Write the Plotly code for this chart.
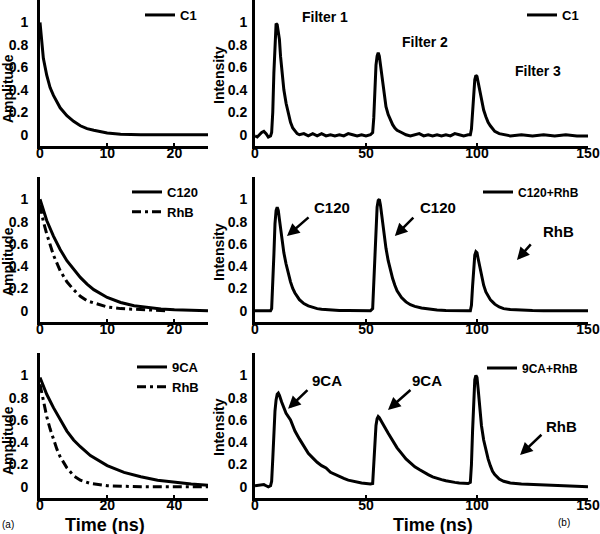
import plotly.graph_objects as go

# ---------------- data ----------------
c1_t = [0, 0.25, 0.5, 1, 1.5, 2, 3, 4, 5, 6, 7, 8, 9, 10, 12, 15, 20, 25]
c1_a = [1.0, 0.82, 0.68, 0.53, 0.42, 0.35, 0.24, 0.17, 0.12, 0.08, 0.055, 0.04, 0.025, 0.015, 0.005, 0, 0, 0]

c120_t = [0, 1, 2, 3, 4, 5, 6, 7, 8, 10, 12, 14, 16, 18, 20, 25]
c120_a = [1.0, 0.81, 0.67, 0.55, 0.45, 0.37, 0.30, 0.24, 0.19, 0.12, 0.075, 0.045, 0.028, 0.017, 0.01, 0.0]
rhb1_t = [0, 0.5, 1, 2, 3, 4, 5, 6, 7, 8, 10, 12, 15, 19]
rhb1_a = [0.95, 0.80, 0.69, 0.50, 0.36, 0.26, 0.19, 0.13, 0.09, 0.07, 0.035, 0.02, 0.01, 0.0]

ca9_t = [0, 2, 4, 6, 8, 10, 12, 15, 20, 25, 30, 35, 40, 45, 50]
ca9_a = [0.98, 0.83, 0.71, 0.60, 0.50, 0.42, 0.36, 0.28, 0.19, 0.13, 0.09, 0.06, 0.04, 0.025, 0.015]
rhb2_t = [0, 1, 2, 3, 4, 5, 6, 8, 10, 12, 15, 20, 30, 40, 50]
rhb2_a = [0.92, 0.76, 0.63, 0.52, 0.42, 0.34, 0.27, 0.17, 0.10, 0.06, 0.03, 0.01, 0, 0, 0]

s1_t = [0, 1, 2, 3, 4, 5, 6, 7, 7.5, 8, 8.5, 9, 9.5, 10, 10.5, 11, 11.5, 12, 12.5, 13, 14, 15, 16, 17, 18, 19, 20,
        22, 24, 26, 28, 30, 32, 34, 36, 38, 40, 42, 44, 46, 48, 50, 52, 53, 53.5, 54, 54.5, 55, 55.5, 56, 56.5, 57,
        57.5, 58, 59, 60, 61, 62, 63, 64, 66, 68, 70, 72, 74, 76, 78, 80, 82, 84, 86, 88, 90, 92, 94, 96, 97, 97.5,
        98, 98.5, 99, 99.5, 100, 100.5, 101, 101.5, 102, 103, 104, 105, 106, 107, 108, 110, 112, 115, 120, 125, 130,
        135, 140, 145, 150]
s1_v = [-0.01, -0.02, 0.0, 0.02, 0.03, 0.01, -0.02, -0.01, 0.02, 0.2, 0.55, 0.88, 0.99, 0.98, 0.9, 0.85, 0.7, 0.6,
        0.5, 0.4, 0.28, 0.18, 0.11, 0.06, 0.03, 0.01, 0.0,
        0.01, -0.01, 0.01, -0.01, 0.01, -0.01, 0.0, -0.01, 0.0, -0.01, 0.01, 0.0, -0.01, 0.0, -0.01, 0.0, 0.02, 0.15,
        0.4, 0.62, 0.7, 0.73, 0.7, 0.62, 0.54,
        0.45, 0.37, 0.25, 0.18, 0.13, 0.09, 0.06, 0.04, 0.02, 0.0, -0.01, 0.0, 0.01, -0.01, 0.0, -0.01, 0.0, -0.01,
        0.0, -0.01, 0.01, 0.0, -0.01, 0.0, 0.0, 0.05,
        0.2, 0.38, 0.49, 0.53, 0.52, 0.47, 0.42, 0.36, 0.31, 0.22, 0.16, 0.11, 0.08, 0.05, 0.03, 0.01, 0.0, -0.01,
        0.0, -0.01, 0.0,
        -0.01, 0.0, -0.01, -0.01]

s2_t = [0, 2, 4, 6, 7, 7.5, 8, 8.5, 9, 9.5, 10, 10.5, 11, 12, 13, 14, 15, 16, 17, 18, 20, 22, 24, 26, 28, 30, 34, 38,
        42, 46, 50, 52, 53, 53.5, 54, 54.5, 55, 55.5, 56, 56.5, 57, 58, 59, 60, 61, 62, 63, 64, 66, 68, 70, 72, 75,
        78, 82, 86, 90, 94, 96, 97, 97.5, 98, 98.5, 99, 99.5, 100, 100.5, 101, 102, 103, 104, 105, 106, 107, 108,
        110, 112, 115, 120, 125, 130, 140, 150]
s2_v = [0, 0, 0, 0, 0, 0.02, 0.2, 0.5, 0.78, 0.9, 0.93, 0.9, 0.82, 0.65, 0.52, 0.42, 0.33, 0.26, 0.2, 0.16, 0.1,
        0.065, 0.045, 0.03, 0.02, 0.015, 0.008, 0.004,
        0.002, 0.0, 0, 0, 0.02, 0.25, 0.55, 0.8, 0.93, 0.99, 1.0, 0.95, 0.86, 0.7, 0.56, 0.45, 0.36, 0.29, 0.23, 0.18,
        0.12, 0.08, 0.055, 0.04, 0.025,
        0.015, 0.008, 0.004, 0.0, 0, 0, 0, 0.05, 0.22, 0.4, 0.5, 0.53, 0.52, 0.47, 0.42, 0.31, 0.23, 0.17, 0.13, 0.1,
        0.08, 0.06,
        0.035, 0.02, 0.012, 0.005, 0.002, 0, 0, 0]

s3_t = [0, 2, 4, 5, 6, 7, 7.5, 8, 8.5, 9, 9.5, 10, 10.5, 11, 12, 13, 14, 16, 18, 20, 22, 24, 26, 28, 30, 32, 34, 36,
        38, 40, 42, 44, 46, 48, 50, 52, 53, 53.5, 54, 54.5, 55, 55.5, 56, 56.5, 57, 58, 60, 62, 64, 66, 68, 70, 72,
        74, 76, 78, 80, 82, 84, 86, 88, 90, 92, 94, 96, 97, 97.5, 98, 98.5, 99, 99.5, 100, 100.5, 101, 101.5, 102,
        103, 104, 105, 106, 107, 108, 110, 112, 115, 120, 125, 130, 135, 140, 145, 150]
s3_v = [0.01, 0.015, 0.02, 0.01, 0.0, 0.01, 0.05, 0.25, 0.5, 0.68, 0.78, 0.83, 0.84, 0.82, 0.76, 0.71, 0.66, 0.6,
        0.5, 0.43, 0.36, 0.3, 0.26, 0.22, 0.19, 0.17, 0.13, 0.11,
        0.09, 0.075, 0.06, 0.05, 0.04, 0.035, 0.03, 0.025, 0.03, 0.2, 0.4, 0.55, 0.61, 0.63, 0.62, 0.6, 0.58, 0.55,
        0.48, 0.41, 0.35, 0.3, 0.25, 0.215, 0.18,
        0.155, 0.13, 0.11, 0.09, 0.075, 0.065, 0.055, 0.045, 0.04, 0.035, 0.03, 0.03, 0.04, 0.2, 0.5, 0.8, 0.96, 1.0,
        0.98, 0.88, 0.75, 0.64, 0.55,
        0.42, 0.32, 0.25, 0.19, 0.14, 0.11, 0.07, 0.05, 0.035, 0.025, 0.02, 0.015, 0.012, 0.01, 0.005, 0.0]

y_ticks = [0, 0.2, 0.4, 0.6, 0.8, 1]
y_ticklabels = ["0", "0.2", "0.4", "0.6", "0.8", "1"]

# ---------------- figure ----------------
FONT = "Liberation Sans, Arial, sans-serif"
BLK = "black"
LW = 3

fig = go.Figure()

def line(x, y, name, xa, ya, leg, dash="solid"):
    fig.add_trace(go.Scatter(x=x, y=y, name=name, mode="lines", xaxis=xa, yaxis=ya, legend=leg,
                             line=dict(color=BLK, width=LW, dash=dash)))

DD = "9px,4px,3px,4px"
line(c1_t, c1_a, "C1", "x", "y", "legend")
line(s1_t, s1_v, "C1", "x2", "y2", "legend2")
line(c120_t, c120_a, "C120", "x3", "y3", "legend3")
line(rhb1_t, rhb1_a, "RhB", "x3", "y3", "legend3", DD)
line(s2_t, s2_v, "C120+RhB", "x4", "y4", "legend4")
line(ca9_t, ca9_a, "9CA", "x5", "y5", "legend5")
line(rhb2_t, rhb2_a, "RhB", "x5", "y5", "legend5", DD)
line(s3_t, s3_v, "9CA+RhB", "x6", "y6", "legend6")

W, H = 600, 534
ML, MR, MT, MB = 40, 12, 0, 36
PW, PH = W - ML - MR, H - MT - MB

def xd(p0, p1):
    return [(p0 - ML) / PW, (p1 - ML) / PW]

def yd(p_top, p_bot):
    return [(H - MB - p_bot) / PH, (H - MB - p_top) / PH]

left_dom = xd(40, 208)
right_dom = xd(255, 588)
rows = [yd(0, 146), yd(177, 322), yd(353, 498)]

tickfont = dict(family=FONT, size=14, color=BLK, weight="bold")
xranges = [[0, 25], [0, 150], [0, 25], [0, 150], [0, 50], [0, 150]]
xdticks = [10, 50, 10, 50, 20, 50]

layout = dict(width=W, height=H, margin=dict(l=ML, r=MR, t=MT, b=MB),
              paper_bgcolor="white", plot_bgcolor="white", showlegend=True)
for i in range(6):
    r, c = divmod(i, 2)
    sx = "" if i == 0 else str(i + 1)
    layout["xaxis" + sx] = dict(domain=left_dom if c == 0 else right_dom, range=xranges[i], dtick=xdticks[i],
                                anchor="y" + sx, showline=True, linewidth=LW, linecolor=BLK, mirror=False,
                                ticks="inside", ticklen=3, tickwidth=1.5, tickcolor=BLK, showgrid=False,
                                zeroline=False, tickfont=tickfont, automargin=False, ticklabelstandoff=-8)
    layout["yaxis" + sx] = dict(domain=rows[r], range=[-0.1, 1.2], tickvals=y_ticks, ticktext=y_ticklabels,
                                anchor="x" + sx, showline=True, linewidth=LW, linecolor=BLK,
                                ticks="", showgrid=False, zeroline=False, tickfont=tickfont, automargin=False,
                                ticklabelstandoff=6 if c == 0 else 2)

def px2x(px):
    return (px - ML) / PW

def py2y(py):
    return (H - MB - py) / PH

legfont_l = dict(family=FONT, size=13, color=BLK, weight="bold")
legfont_r = dict(family=FONT, size=12, color=BLK, weight="bold")
leg_common = dict(xanchor="right", yanchor="middle", bgcolor="rgba(0,0,0,0)", borderwidth=0,
                  itemwidth=30, tracegroupgap=0)
layout["legend"] = dict(x=px2x(202), y=py2y(15), font=legfont_l, **leg_common)
layout["legend2"] = dict(x=px2x(584), y=py2y(15), font=legfont_l, **leg_common)
layout["legend3"] = dict(x=px2x(204), y=py2y(202), font=legfont_l, **leg_common)
layout["legend4"] = dict(x=px2x(584), y=py2y(192), font=legfont_r, **leg_common)
layout["legend5"] = dict(x=px2x(204), y=py2y(377), font=legfont_l, **leg_common)
layout["legend6"] = dict(x=px2x(584), y=py2y(368), font=legfont_r, **leg_common)

fig.update_layout(**layout)

ann = []
def label(text, x, y, xa, ya, size=15):
    ann.append(dict(text=text, x=x, y=y, xref=xa, yref=ya, showarrow=False,
                    font=dict(family=FONT, size=size, color=BLK, weight="bold")))

def arrow(x0, y0, x1, y1, xa, ya):
    ann.append(dict(text="", x=x1, y=y1, ax=x0, ay=y0, xref=xa, yref=ya, axref=xa, ayref=ya,
                    showarrow=True, arrowhead=2, arrowsize=1, arrowwidth=2.5, arrowcolor=BLK))

label("Filter 1", 31.5, 1.05, "x2", "y2", 14)
label("Filter 2", 76.6, 0.83, "x2", "y2", 14)
label("Filter 3", 127.5, 0.57, "x2", "y2", 14)

label("C120", 34.7, 0.93, "x4", "y4")
arrow(24.8, 0.85, 14.4, 0.67, "x4", "y4")
label("C120", 82.4, 0.93, "x4", "y4")
arrow(72.0, 0.85, 63.0, 0.67, "x4", "y4")
label("RhB", 136.5, 0.71, "x4", "y4")
arrow(124.8, 0.61, 118.0, 0.455, "x4", "y4")

label("9CA", 32.4, 0.955, "x6", "y6")
arrow(24.3, 0.88, 14.9, 0.70, "x6", "y6")
label("9CA", 77.5, 0.955, "x6", "y6")
arrow(70.7, 0.88, 59.9, 0.69, "x6", "y6")
label("RhB", 138.0, 0.545, "x6", "y6")
arrow(129.7, 0.48, 119.4, 0.285, "x6", "y6")

def ptext(text, px, py, size, angle=0, bold=True):
    f = dict(family=FONT, size=size, color=BLK)
    if bold:
        f["weight"] = "bold"
    ann.append(dict(text=text, x=px2x(px), y=py2y(py), xref="paper", yref="paper", showarrow=False,
                    textangle=angle, font=f, xanchor="center", yanchor="middle"))

ptext("Amplitude", 8, 89, 14, -90)
ptext("Amplitude", 8, 262, 14, -90)
ptext("Amplitude", 8, 441, 14, -90)
ptext("Intensity", 219, 75, 14, -90)
ptext("Intensity", 219, 252, 14, -90)
ptext("Intensity", 219, 427, 14, -90)
ptext("Time (ns)", 105, 525, 18)
ptext("Time (ns)", 433, 525, 18)
ptext("(a)", 8, 524, 10, bold=False)
ptext("(b)", 564, 522, 10, bold=False)

fig.update_layout(annotations=ann)
fig.write_html("out.html", config={"displayModeBar": False},
               post_script="document.body.style.margin='0';document.body.style.padding='0';"
                           "document.body.style.overflow='hidden';")
